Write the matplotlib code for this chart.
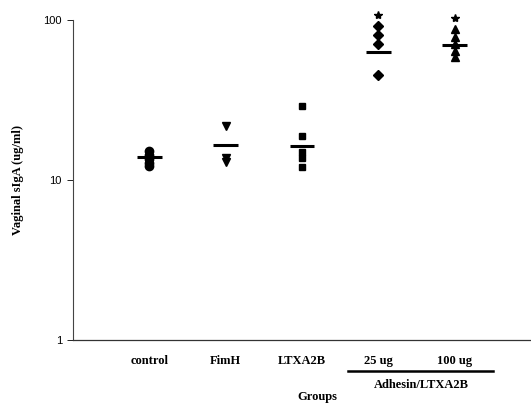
import matplotlib
matplotlib.use("Agg")
import matplotlib.pyplot as plt
import matplotlib.transforms as mtransforms

# values (ug/ml)
groups = ["control", "FimH", "LTXA2B", "25 ug", "100 ug"]
control = [15.2, 14.3, 13.5, 12.8, 12.2]
fimh = [21.8, 13.7, 12.9]
ltxa2b = [28.8, 18.9, 14.9, 13.7, 12.1]
adhesin_25 = [91.7, 80.5, 70.8, 45.3]
adhesin_100 = [87.8, 78.3, 70.8, 64.1, 58.7]
group_means = [13.9, 16.5, 16.3, 63.0, 70.0]
star_values = [None, None, None, 107, 103]

series = [control, fimh, ltxa2b, adhesin_25, adhesin_100]
markers = ["o", "v", "s", "D", "^"]
sizes = [6, 5.5, 4.5, 4.6, 5.5]

serif = {"family": "Liberation Serif", "weight": "bold", "size": 9}

fig = plt.figure(figsize=(5.31, 4.03), dpi=100)
ax = fig.add_axes([0.1375, 0.1563, 0.8625, 0.7941])

for i, vals in enumerate(series):
    x = i + 1
    ax.plot([x] * len(vals), vals, linestyle="none", marker=markers[i],
            markersize=sizes[i], color="black", clip_on=False)
    ax.plot([x - 0.16, x + 0.16], [group_means[i]] * 2, color="black",
            lw=2.2, solid_capstyle="butt")
    if star_values[i]:
        ax.plot(x, star_values[i], marker="*", markersize=6, color="black",
                linestyle="none", clip_on=False)

ax.set_yscale("log")
ax.set_ylim(1, 100)
ax.set_xlim(0, 6)
ax.set_yticks([1, 10, 100])
ax.set_yticklabels(["1", "10", "100"], fontfamily="Liberation Sans", fontsize=8)
ax.yaxis.set_minor_locator(matplotlib.ticker.NullLocator())
ax.tick_params(axis="y", direction="out", length=4, width=0.6, pad=4)

ax.set_xticks(range(1, 6))
ax.set_xticklabels(groups, fontdict=serif)
ax.tick_params(axis="x", length=0, pad=11)

for side in ["top", "right"]:
    ax.spines[side].set_visible(False)
ax.spines["left"].set_color("#444444")
ax.spines["left"].set_linewidth(0.8)
ax.spines["bottom"].set_color("#333333")
ax.spines["bottom"].set_linewidth(0.9)

ax.set_ylabel("Vaginal sIgA (ug/ml)", fontdict=serif, labelpad=14)

# bracket under the adhesin groups
trans = mtransforms.blended_transform_factory(ax.transData, ax.transAxes)
ax.plot([3.6, 5.5], [-0.097, -0.097], transform=trans, color="black",
        lw=1.8, clip_on=False)
ax.text(4.56, -0.142, "Adhesin/LTXA2B", transform=trans, ha="center",
        va="center", fontdict=serif)
ax.text(3.2, -0.178, "Groups", transform=trans, ha="center", va="center",
        fontdict=serif)

fig.savefig("out.png", dpi=100)
